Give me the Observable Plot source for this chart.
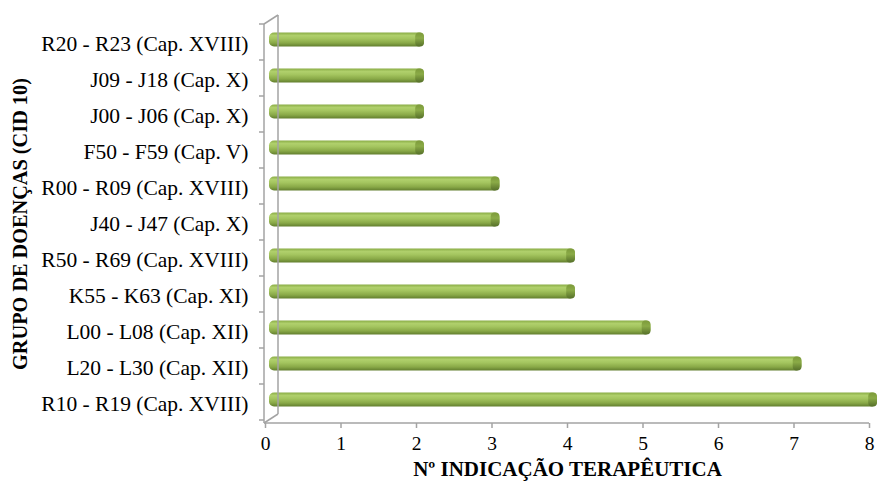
<!DOCTYPE html>
<html>
<head>
<meta charset="utf-8">
<script src="https://cdn.jsdelivr.net/npm/d3@7"></script>
<script src="https://cdn.jsdelivr.net/npm/@observablehq/plot@0.6"></script>
<style>
  html, body { margin: 0; padding: 0; background: #fff; }
  svg { display: block; }
</style>
</head>
<body>
<div id="chart"></div>
<script>
// Disease groups (ICD-10), top to bottom
const categories = [
  "R20 - R23 (Cap. XVIII)",
  "J09 - J18 (Cap. X)",
  "J00 - J06 (Cap. X)",
  "F50 - F59 (Cap. V)",
  "R00 - R09 (Cap. XVIII)",
  "J40 - J47 (Cap. X)",
  "R50 - R69 (Cap. XVIII)",
  "K55 - K63 (Cap. XI)",
  "L00 - L08 (Cap. XII)",
  "L20 - L30 (Cap. XII)",
  "R10 - R19 (Cap. XVIII)"
];
// Number of therapeutic indications per group
const counts = [2, 2, 2, 2, 3, 3, 4, 4, 5, 7, 8];
const xTicks = [0, 1, 2, 3, 4, 5, 6, 7, 8];
const xTitle = "Nº INDICAÇÃO TERAPÊUTICA";
const yTitle = "GRUPO DE DOENÇAS (CID 10)";

const data = categories.map((c, i) => ({group: c, value: counts[i]}));

// depth offset of the bars' plane and of the back wall
const barDx = 6, barDy = -4.5;
const wallDx = 14, wallDy = -9;
const font = "Liberation Serif";
const axisGray = "#a3a3a3";

const plot = Plot.plot({
  width: 877,
  height: 485,
  marginLeft: 265,
  marginRight: 8,
  marginTop: 24,
  marginBottom: 62,
  style: {fontFamily: font, fontSize: "20px", color: "#000", background: "#fff"},
  x: {domain: [0, 8], ticks: xTicks},
  y: {domain: categories, padding: 0},
  marks: [
    // cylinder bodies
    Plot.barX(data, {
      y: "group", x1: 0, x2: "value",
      insetTop: 11, insetBottom: 11, insetLeft: -2, insetRight: -2,
      rx: 5, dx: barDx, dy: barDy,
      fill: "url(#cyl)"
    }),
    // end caps
    Plot.barX(data, {
      y: "group", x1: d => d.value - 0.09, x2: "value",
      insetTop: 11, insetBottom: 11, insetRight: -2,
      rx: 4, dx: barDx, dy: barDy,
      fill: "url(#cap)"
    }),
    Plot.axisX({
      ticks: xTicks, tickSize: 5, tickPadding: 8,
      stroke: axisGray, strokeWidth: 1.5, label: null,
      fill: "#000", fontSize: 19.5, fontFamily: font
    }),
    Plot.axisY({
      tickSize: 0, tickPadding: 17, label: null,
      fill: "#000", fontSize: 21.5, fontFamily: font
    }),
    Plot.text([xTitle], {
      frameAnchor: "bottom", dy: 52, text: d => d, textAnchor: "middle",
      fontWeight: "bold", fontSize: 21, fontFamily: font, fill: "#000"
    }),
    Plot.text([yTitle], {
      frameAnchor: "left", dx: -245, rotate: -90, text: d => d, textAnchor: "middle",
      fontWeight: "bold", fontSize: 20.3, fontFamily: font, fill: "#000"
    })
  ]
});

// all labels use the serif face
d3.select(plot).selectAll("text").attr("font-family", font).style("font-family", font);

// gradients for the cylinder shading
const svg = d3.select(plot);
const defs = svg.insert("defs", ":first-child");
const cyl = defs.append("linearGradient").attr("id", "cyl")
  .attr("x1", 0).attr("y1", 0).attr("x2", 0).attr("y2", 1);
[[0, "#8aac46"], [0.22, "#b0d06c"], [0.45, "#a3c45e"], [0.75, "#88a847"], [1, "#627e2e"]]
  .forEach(([o, c]) => cyl.append("stop").attr("offset", o).attr("stop-color", c));
const cap = defs.append("linearGradient").attr("id", "cap")
  .attr("x1", 0).attr("y1", 0).attr("x2", 0).attr("y2", 1);
[[0, "#7c9a3a"], [0.4, "#8bab47"], [1, "#56702a"]]
  .forEach(([o, c]) => cap.append("stop").attr("offset", o).attr("stop-color", c));

// 3D frame: front axis, back wall and connecting diagonals, built from the scales
const xs = plot.scale("x"), ys = plot.scale("y");
const x0 = xs.apply(0);
const yTop = ys.range[0], yBot = ys.range[1];
const step = ys.step;
const frame = svg.append("g").attr("stroke", axisGray).attr("stroke-width", 1.5).attr("fill", "none");
// front vertical axis
frame.append("line").attr("x1", x0 - 1).attr("x2", x0 - 1).attr("y1", yTop).attr("y2", yBot);
// back wall edge
frame.append("line").attr("x1", x0 + wallDx - 1).attr("x2", x0 + wallDx - 1)
  .attr("y1", yTop + wallDy).attr("y2", yBot + wallDy);
// diagonals
frame.append("line").attr("x1", x0 - 1).attr("y1", yTop).attr("x2", x0 + wallDx - 1).attr("y2", yTop + wallDy);
frame.append("line").attr("x1", x0 - 1).attr("y1", yBot).attr("x2", x0 + wallDx - 1).attr("y2", yBot + wallDy);
// front bottom axis line
frame.append("line").attr("x1", x0 - 1).attr("x2", xs.apply(8)).attr("y1", yBot).attr("y2", yBot);
// category boundary ticks
d3.range(categories.length + 1).forEach(i => {
  const y = yTop + i * step;
  frame.append("line").attr("x1", x0 - 6).attr("x2", x0 - 1).attr("y1", y).attr("y2", y);
});

document.getElementById("chart").appendChild(plot);
</script>
</body>
</html>
